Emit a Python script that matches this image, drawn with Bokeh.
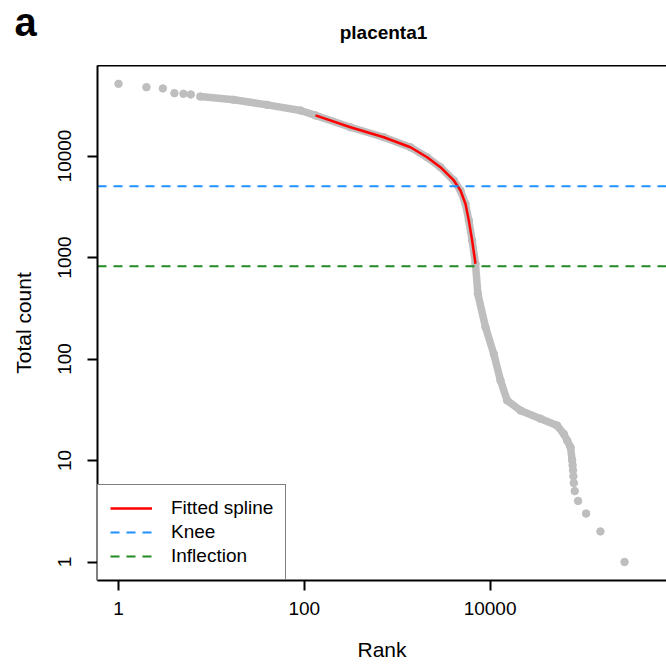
from bokeh.plotting import figure
from bokeh.layouts import column, row
from bokeh.models import (Range1d, FixedTicker, PrintfTickFormatter, Legend,
                          LegendItem, Label, LogAxis)
from bokeh.embed import file_html
from bokeh.resources import INLINE

# ---------------- data ----------------
# isolated top barcodes
head_rank = [1, 2, 3, 4, 5, 6]
head_count = [51400, 47600, 46300, 41600, 41000, 40400]
# dense part of the barcode-rank curve
band_rank = [7.6, 17.4, 39.9, 91, 132, 314, 718, 1390, 2100, 2920, 4070, 4800, 5430,
             5900, 6410, 6960, 7380, 8920, 10960, 12940, 15280, 21230, 34900, 52700,
             62100, 67600, 73400, 76500]
band_count = [38500, 35800, 31900, 28100, 25100, 19200, 15300, 12200, 9730, 7760, 5740,
              4570, 3380, 2320, 1470, 867, 439, 206, 112, 61.4, 39, 31.1, 25.8, 22.1,
              18.3, 15.7, 13.5, 10]
# low-count tail
tail_rank = [77300, 78000, 78800, 79600, 81500, 88500, 108000, 154000, 280000]
tail_count = [9, 8, 7, 6, 5, 4, 3, 2, 1]
# fitted spline
spline_rank = [132, 314, 718, 1390, 2100, 2920, 4070, 4800, 5430, 5900, 6410, 6960]
spline_count = [25100, 19200, 15300, 12200, 9730, 7760, 5740, 4570, 3380, 2320, 1470, 867]
knee = 5040
inflection = 821

x_ticks = [1, 100, 10000]
y_ticks = [1, 10, 100, 1000, 10000]

# ---------------- layout helpers ----------------
FONT = "Liberation Sans"
GREY = "#BEBEBE"
X0, XDEC = 118.0, 92.9      # page px of rank 1, px per decade
Y0, YDEC = 561.5, 101.5     # page px of count 1, px per decade
TOP = 65                    # page y of the frame top


def xd(px):
    return 10 ** ((px - X0) / XDEC)


def yd(py):
    return 10 ** ((Y0 - py) / YDEC)


# ---------------- header (panel letter + title) ----------------
head = figure(width=666, height=TOP, x_range=Range1d(0, 666), y_range=Range1d(TOP, 0),
              min_border=0, x_axis_location=None, y_axis_location=None,
              output_backend="svg", toolbar_location=None)
head.outline_line_color = None
head.grid.visible = False
head.add_layout(Label(x=14, y=21.5, text="a", text_font=FONT, text_font_size="40px",
                      text_font_style="bold", text_color="black", text_align="left",
                      text_baseline="alphabetic"))
head.add_layout(Label(x=383, y=32, text="placenta1", text_font=FONT,
                      text_font_size="19px", text_font_style="bold", text_color="black",
                      text_align="center", text_baseline="alphabetic"))

# ---------------- main plot ----------------
p = figure(width=666, height=664 - TOP, x_axis_type="log", y_axis_type="log",
           x_range=Range1d(xd(97), xd(666)), y_range=Range1d(yd(580), yd(TOP)),
           output_backend="svg", toolbar_location=None,
           min_border_left=97, min_border_right=0, min_border_top=0, min_border_bottom=84)
p.outline_line_color = None
p.xgrid.visible = False
p.ygrid.visible = False

p.line(band_rank, band_count, line_width=7.5, line_color=GREY,
       line_cap="round", line_join="round")
p.scatter(head_rank + band_rank + tail_rank, head_count + band_count + tail_count,
          size=7.5, fill_color=GREY, line_color=GREY)

spline = p.line(spline_rank, spline_count, line_width=2.5, line_color="red")

DASH = "9 7"
xs = [p.x_range.start, p.x_range.end]
knee_line = p.line(xs, [knee, knee], line_color="#1E90FF", line_width=2, line_dash=DASH)
infl_line = p.line(xs, [inflection, inflection], line_color="#228B22", line_width=2,
                   line_dash=DASH)

legend = Legend(items=[LegendItem(label="Fitted spline", renderers=[spline]),
                       LegendItem(label="Knee", renderers=[knee_line]),
                       LegendItem(label="Inflection", renderers=[infl_line])],
                location="bottom_left", margin=0, padding=12, spacing=2,
                label_height=20, glyph_height=20, glyph_width=42, label_standoff=19,
                border_line_color="black", border_line_width=1.5,
                background_fill_color="white", background_fill_alpha=1.0,
                label_text_font=FONT, label_text_font_size="19px",
                label_text_color="black")
p.add_layout(legend)

for ax in (p.xaxis[0], p.yaxis[0]):
    ax.formatter = PrintfTickFormatter(format="%d")
    ax.axis_line_width = 2
    ax.axis_line_color = "black"
    ax.major_tick_line_width = 2
    ax.major_tick_line_color = "black"
    ax.major_tick_out = 10
    ax.major_tick_in = 0
    ax.minor_tick_out = 0
    ax.minor_tick_in = 0
    ax.major_label_text_font = FONT
    ax.major_label_text_font_size = "19px"
    ax.major_label_text_color = "black"
    ax.axis_label_text_font = FONT
    ax.axis_label_text_font_size = "21px"
    ax.axis_label_text_font_style = "normal"
    ax.axis_label_text_color = "black"
p.xaxis[0].ticker = FixedTicker(ticks=x_ticks)
p.yaxis[0].ticker = FixedTicker(ticks=y_ticks)
p.xaxis[0].major_label_standoff = 11
p.yaxis[0].major_label_standoff = 17
p.yaxis[0].major_label_orientation = "vertical"
p.xaxis[0].axis_label = "Rank"
p.xaxis[0].axis_label_standoff = 20
p.yaxis[0].axis_label = "Total count"
p.yaxis[0].axis_label_standoff = 20

top = LogAxis(ticker=FixedTicker(ticks=[]), major_label_text_font_size="0px",
              major_label_standoff=0, axis_line_width=2, axis_line_color="black",
              major_tick_out=0, major_tick_in=0, minor_tick_out=0, minor_tick_in=0)
p.add_layout(top, "above")

open("out.html", "w").write(file_html(column(row(head), p, spacing=0), INLINE))
